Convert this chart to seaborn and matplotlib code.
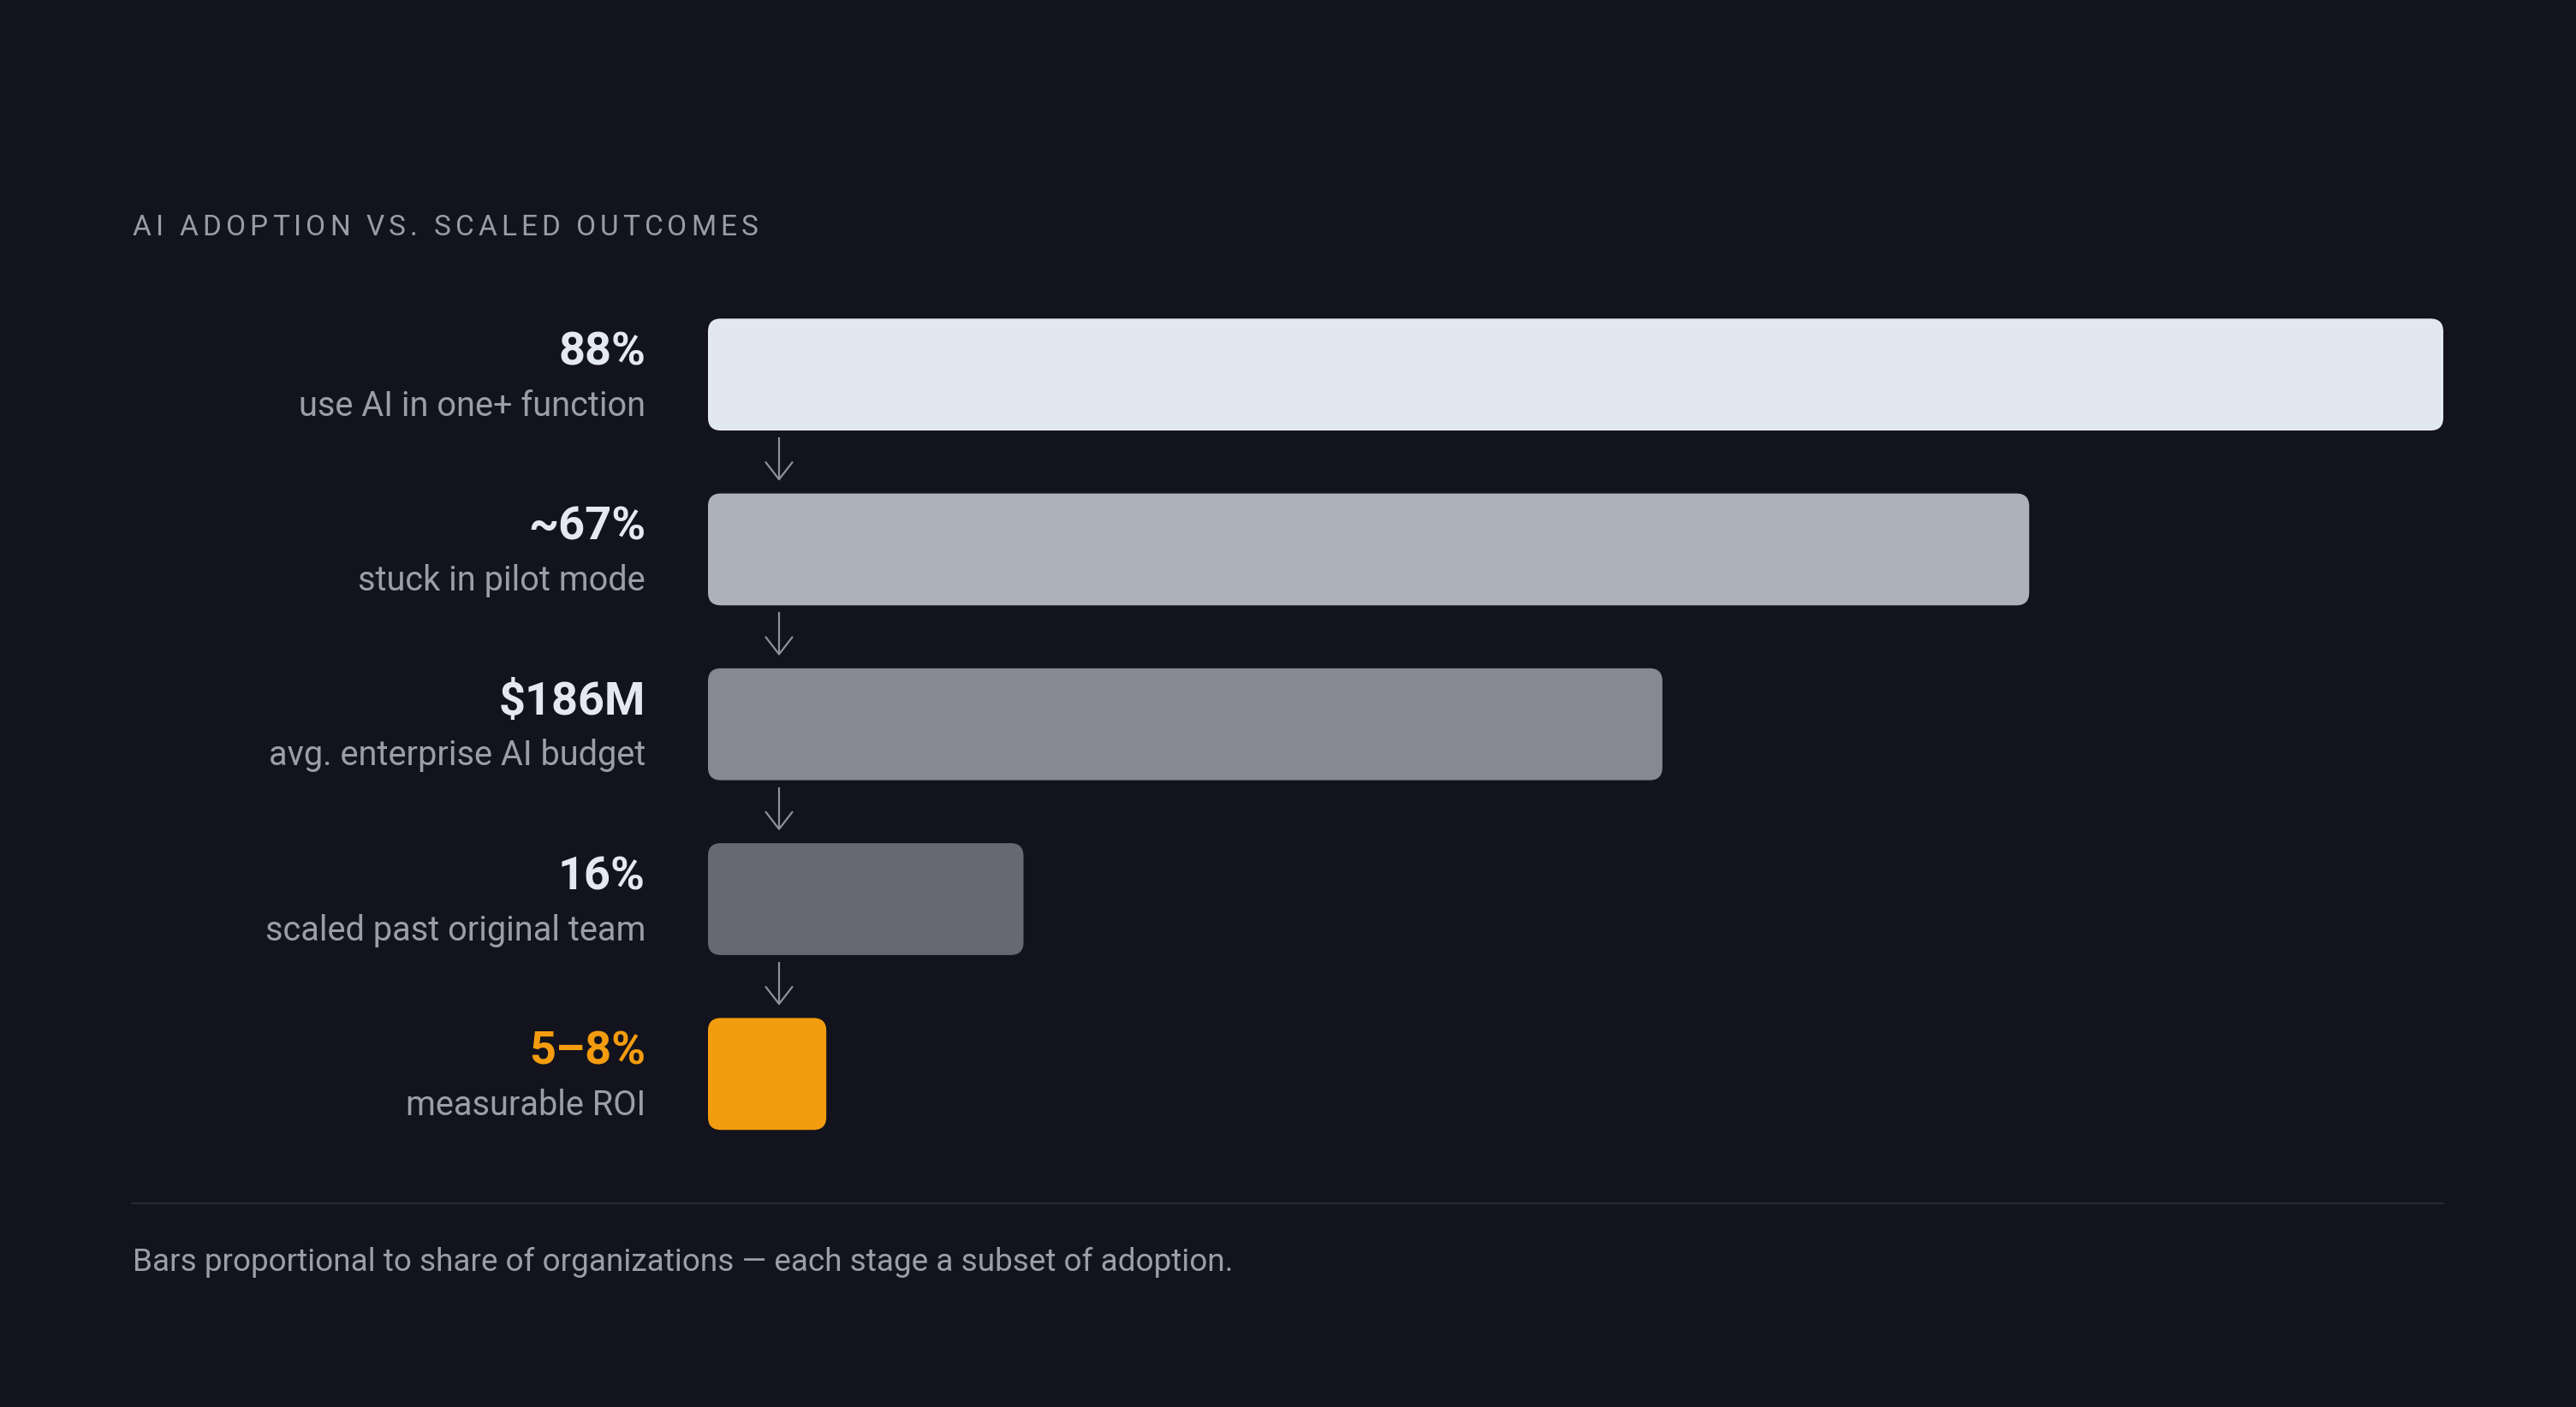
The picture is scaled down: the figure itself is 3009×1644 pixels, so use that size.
import matplotlib
matplotlib.use('Agg')
import pandas as pd
import matplotlib.pyplot as plt
import seaborn as sns
from matplotlib.patches import FancyBboxPatch
from matplotlib.lines import Line2D

# Chart data
values = [88, 67, 48.4, 16, 6]
value_labels = ['88%', '~67%', '$186M', '16%', '5–8%']
stage_labels = ['use AI in one+ function', 'stuck in pilot mode', 'avg. enterprise AI budget',
                'scaled past original team', 'measurable ROI']
bar_colors = ['#e2e8f0', '#adb1ba', '#868893', '#676873', '#f39c0f']
value_colors = ['#e4e9f1', '#e4e9f1', '#e4e9f1', '#e4e9f1', '#f39c0f']
title = 'AI ADOPTION VS. SCALED OUTCOMES'
footnote = 'Bars proportional to share of organizations — each stage a subset of adoption.'

BG = '#13131d'
W, H, DPI = 3009, 1644, 200

sns.set_theme(style='white')
plt.rcParams['font.family'] = ['Roboto', 'DejaVu Sans']


def fx(px):
    return px / W


def fy(py):
    return 1 - py / H


fig = plt.figure(figsize=(W / DPI, H / DPI), dpi=DPI, facecolor=BG)

# bar area in pixels
X0, X1 = 827, 2854
Y0, Y1 = 335.5, 1357
ax = fig.add_axes([fx(X0), fy(Y1), fx(X1) - fx(X0), fy(Y0) - fy(Y1)])
ax.set_facecolor(BG)

df = pd.DataFrame({'stage': stage_labels, 'value': values})
sns.barplot(data=df, x='value', y='stage', hue='stage', palette=bar_colors,
            saturation=1, width=0.64, legend=False, ax=ax)
ax.set_xlim(0, 88)
ax.set_ylim(4.5, -0.5)
ax.axis('off')

px_x = (X1 - X0) / 88
px_y = (Y1 - Y0) / 5

# swap the plain bars for rounded ones
for patch in list(ax.patches):
    x, y = patch.get_x(), patch.get_y()
    w, h = patch.get_width(), patch.get_height()
    fc = patch.get_facecolor()
    patch.remove()
    ax.add_patch(FancyBboxPatch((x, y), w, h,
                                boxstyle=f'round,pad=0,rounding_size={15 / px_x}',
                                mutation_aspect=px_x / px_y, fc=fc, ec='none'))

# labels left of the bars
for i in range(len(values)):
    ax.text(-73 / px_x, i - 11.5 / px_y, value_labels[i], ha='right', va='baseline',
            fontsize=19.5, fontweight='bold', color=value_colors[i], clip_on=False)
    ax.text(-73 / px_x, i + 48 / px_y, stage_labels[i], ha='right', va='baseline',
            fontsize=14.3, color='#9b9ea8', clip_on=False)

# down arrows between stages
arrow_c = '#8d8f99'
ax_x = 83 / px_x
for i in range(len(values) - 1):
    top, tip = i + 73.5 / px_y, i + 122.5 / px_y
    ax.plot([ax_x, ax_x], [top, tip], color=arrow_c, lw=0.8, clip_on=False,
            solid_capstyle='butt')
    ax.plot([ax_x - 15.5 / px_x, ax_x, ax_x + 15.5 / px_x],
            [tip - 20 / px_y, tip, tip - 20 / px_y], color=arrow_c, lw=0.8, clip_on=False)

# letter-spaced title
renderer = fig.canvas.get_renderer()
cx = 155
spacing = 5
for ch in title:
    if ch == ' ':
        cx += 9 + spacing
        continue
    t = fig.text(fx(cx), fy(275), ch, ha='left', va='baseline', fontsize=12, color='#9a9ba6')
    cx += t.get_window_extent(renderer).width + spacing

# divider and footnote
fig.add_artist(Line2D([fx(154), fx(2854)], [fy(1406), fy(1406)], color='#272735', lw=0.8))
fig.text(fx(155), fy(1485), footnote, ha='left', va='baseline', fontsize=13.3, color='#9b9ea8')

fig.savefig('out.png', dpi=DPI, facecolor=BG)
